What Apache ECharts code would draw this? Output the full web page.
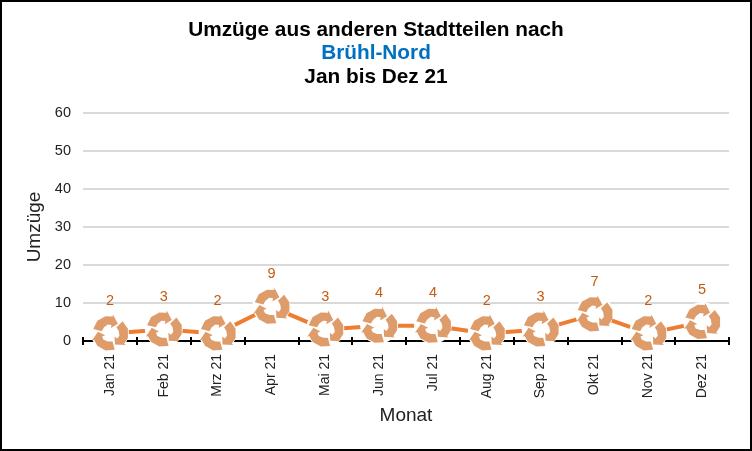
<!DOCTYPE html>
<html><head><meta charset="utf-8">
<style>html,body{margin:0;padding:0;background:#fff}#c{width:752px;height:451px}</style>
<script src="https://cdn.jsdelivr.net/npm/echarts@6/dist/echarts.min.js"></script>
</head><body><div id="c"></div>
<script>
const categories=['Jan 21','Feb 21','Mrz 21','Apr 21','Mai 21','Jun 21','Jul 21','Aug 21','Sep 21','Okt 21','Nov 21','Dez 21'];
const values=[2,3,2,9,3,4,4,2,3,7,2,5];
const yTicks={min:0,max:60,interval:10};
const titleLines=['Umzüge aus anderen Stadtteilen nach','Brühl-Nord','Jan bis Dez 21'];

// Recycling glyph: one bent arrow [angle from top, radius] repeated three times around the centre.
const arm=[[-75,48],[-45,50],[-15,50],[8,48],[8,54],[38,34],[8,15],[8,24],[-15,26],[-45,24],[-75,24]];
function recyclePath(){
  let d='';
  for(let k=0;k<3;k++){
    arm.forEach((p,i)=>{
      const a=(p[0]+k*120)*Math.PI/180;
      const x=50+p[1]*Math.sin(a),y=50-p[1]*Math.cos(a);
      d+=(i?'L':'M')+x.toFixed(1)+' '+y.toFixed(1);
    });
    d+='Z';
  }
  return 'path://'+d;
}
const font='"Liberation Sans",Arial,sans-serif';
const textColor='#222';
const chart=echarts.init(document.getElementById('c'),null,{renderer:'canvas'});
chart.setOption({
  animation:false,
  backgroundColor:'#fff',
  textStyle:{fontFamily:font},
  title:titleLines.map((t,i)=>({
    text:t,left:'center',top:13+i*23.5,
    textStyle:{fontFamily:font,fontWeight:'bold',fontSize:20.8,lineHeight:24,color:i===1?'#0070C0':'#000'}
  })),
  graphic:[{type:'rect',silent:true,z:100,shape:{x:1,y:1,width:750,height:449},style:{fill:'none',stroke:'#000',lineWidth:2}}],
  grid:{left:83,right:23,top:113,bottom:110},
  xAxis:[{
    type:'category',data:categories,boundaryGap:true,
    name:'Monat',nameLocation:'middle',nameGap:63,
    nameTextStyle:{fontFamily:font,fontSize:19,color:textColor},
    axisLine:{lineStyle:{color:'#000',width:2}},
    axisTick:{show:true,alignWithLabel:false,length:4,lineStyle:{color:'#000',width:2}},
    axisLabel:{rotate:90,fontFamily:font,fontSize:14,color:textColor,margin:13,interval:0},
    splitLine:{show:false}
  },{
    type:'category',data:categories,position:'bottom',boundaryGap:true,
    axisLine:{show:false},
    axisTick:{show:true,inside:true,length:4,lineStyle:{color:'#000',width:2}},
    axisLabel:{show:false},splitLine:{show:false}
  }],
  yAxis:{
    type:'value',min:yTicks.min,max:yTicks.max,interval:yTicks.interval,
    name:'Umzüge',nameLocation:'middle',nameGap:32,
    nameTextStyle:{fontFamily:font,fontSize:19,color:textColor},
    axisLine:{show:false},axisTick:{show:false},
    axisLabel:{fontFamily:font,fontSize:14.5,color:textColor,margin:12},
    splitLine:{lineStyle:{color:'#D9D9D9',width:2}}
  },
  series:[{
    name:'line',type:'line',data:values,z:2,
    showSymbol:false,symbol:'none',
    lineStyle:{color:'#ED7D31',width:4}
  },{
    name:'halo',type:'line',data:values,z:3,
    lineStyle:{opacity:0},symbol:'circle',symbolSize:38,symbolOffset:[0,-1],
    itemStyle:{color:'#fff',opacity:1}
  },{
    name:'Umzüge',type:'line',data:values,z:4,
    lineStyle:{opacity:0},
    symbol:recyclePath(),symbolSize:36,symbolOffset:[0,-1],
    itemStyle:{color:'#DF9C6B',opacity:1},
    label:{show:true,position:'top',distance:6,fontFamily:font,fontSize:14.5,color:'#C55A11'}
  }]
});
</script></body></html>
